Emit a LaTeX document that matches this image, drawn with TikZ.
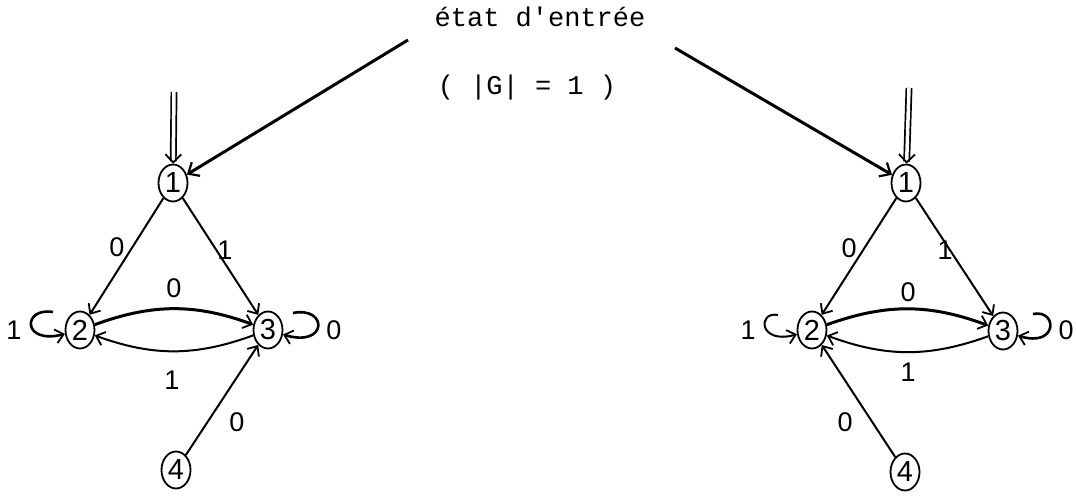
\documentclass[tikz,border=0pt]{standalone}
\usepackage{fontspec}
\setmainfont{Liberation Sans}
\newfontfamily\typew{Liberation Mono}
\usetikzlibrary{arrows.meta,shapes.geometric}
\begin{document}
\begin{tikzpicture}[x=1pt,y=1pt,
  st/.style={ellipse, draw, line width=1.8pt, minimum width=29pt, minimum height=37pt, inner sep=0pt, font=\fontsize{29}{29}\selectfont},
  lb/.style={font=\fontsize{27}{27}\selectfont, inner sep=0pt},
  tx/.style={font=\typew\fontsize{27}{27}\selectfont, inner sep=0pt, anchor=base},
  ed/.style={line width=2pt, -{Straight Barb[length=8pt,width=14pt,line width=1.8pt]}},
  thk/.style={line width=3pt, -{Straight Barb[length=9pt,width=16pt,line width=2.2pt]}},
  dbl/.style={double, double distance=3.5pt, line width=1.7pt, -{Straight Barb[length=8pt,width=16pt,line width=1.8pt]}}]
\useasboundingbox (0,0) rectangle (1076,-497);

% title text
\node[tx] (t1) at (540,-27) {état d'entrée};
\node[tx] (t2) at (527,-95) {( |G| = 1 )};

% left automaton
\node[st] (l1) at (173,-183) {1};
\node[st] (l2) at (80,-330) {2};
\node[st] (l3) at (268,-330) {3};
\node[st] (l4) at (176,-470) {4};

% right automaton
\node[st] (r1) at (906,-183) {1};
\node[st] (r2) at (812,-330) {2};
\node[st] (r3) at (1003,-331) {3};
\node[st] (r4) at (905,-472) {4};

% free ends
\coordinate (s1) at (408,-40);
\coordinate (s2) at (675,-48);
\coordinate (dl) at (174,-92);
\coordinate (dr) at (909,-88);
\coordinate (la2) at (53,-312);
\coordinate (la3) at (293,-313);
\coordinate (ra2) at (778,-315);
\coordinate (ra3) at (1033,-314);

% entry arrows
\draw[thk] (s1) -- (l1);
\draw[thk] (s2) -- (r1);
\draw[dbl] (dl) -- (l1);
\draw[dbl] (dr) -- (r1);

% left edges
\draw[ed] (l1) -- (l2);
\draw[ed] (l1) -- (l3);
\draw[ed, line width=3pt] (l2) to[bend left=20] (l3);
\draw[ed] (l3) to[bend left=20] (l2);
\draw[ed] (l4) -- (l3);
\draw[ed, line width=2.6pt] (la2) .. controls (22,-307) and (22,-345) .. (l2);
\draw[ed, line width=2.6pt] (la3) .. controls (328,-306) and (328,-348) .. (l3);

% right edges
\draw[ed] (r1) -- (r2);
\draw[ed] (r1) -- (r3);
\draw[ed, line width=3pt] (r2) to[bend left=20] (r3);
\draw[ed] (r3) to[bend left=20] (r2);
\draw[ed] (r4) -- (r2);
\draw[ed] (ra2) .. controls (757,-311) and (759,-345) .. (r2);
\draw[ed, line width=2.6pt] (ra3) .. controls (1058,-309) and (1058,-348) .. (r3);

% left labels
\node[lb] (a1) at (117,-247) {0};
\node[lb] (a2) at (225,-250) {1};
\node[lb] (a3) at (174,-288) {0};
\node[lb] (a4) at (172,-380) {1};
\node[lb] (a5) at (237,-422) {0};
\node[lb] (a6) at (14,-330) {1};
\node[lb] (a7) at (334,-330) {0};

% right labels
\node[lb] (b1) at (849,-248) {0};
\node[lb] (b2) at (945,-250) {1};
\node[lb] (b3) at (908,-292) {0};
\node[lb] (b4) at (908,-372) {1};
\node[lb] (b5) at (845,-422) {0};
\node[lb] (b6) at (748,-330) {1};
\node[lb] (b7) at (1066,-330) {0};
\end{tikzpicture}
\end{document}
